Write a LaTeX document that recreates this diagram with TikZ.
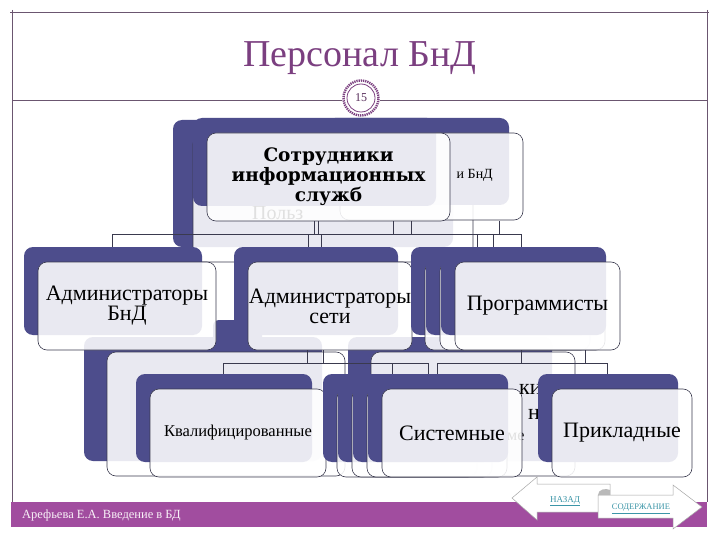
\documentclass[tikz,border=0pt]{standalone}
\usepackage{fontspec}
\setmainfont{Liberation Serif}
\newfontfamily\heavyfont{DejaVu Serif}
\usetikzlibrary{shadows}
\definecolor{navy}{HTML}{4D4D8C}
\definecolor{edge}{HTML}{3A3A4E}
\definecolor{frameline}{HTML}{6B5670}
\definecolor{plum}{HTML}{7B3F80}
\definecolor{barfill}{HTML}{A14D9F}
\definecolor{linkcol}{HTML}{3C96A8}
\tikzset{
  card/.style={rounded corners=9pt, draw=edge, line width=0.6pt, fill=white,
    fill opacity=0.88, text opacity=1, inner sep=0pt, align=center,
    font=\fontsize{22}{20}\selectfont,
    drop shadow={shadow xshift=#1, shadow yshift=15pt, fill=navy, opacity=1, draw=none}},
  card/.default=-14pt,
  boxw/.style={minimum width=#1, minimum height=88pt},
  bus/.style={draw=edge, line width=0.6pt},
  frame/.style={draw=frameline, line width=0.8pt},
  ghost/.style={inner sep=0pt, font=\fontsize{22}{20}\selectfont},
  navarrow/.style={fill=white, draw=gray!70, line width=0.5pt},
  navtext/.style={inner sep=0pt, text=linkcol, font=\fontsize{9}{9}\selectfont},
}
\begin{document}
\begin{tikzpicture}[x=1pt,y=-1pt]
\useasboundingbox[fill=white] (0,0) rectangle (720,540);

\draw[frame] (10,12) -- (709,12);
\draw[frame] (12,10) -- (12,502);
\draw[frame] (707,10) -- (707,502);
\draw[frame] (12,100) -- (707,100);
\node[font=\fontsize{38}{38}\selectfont, text=plum, anchor=base] (title) at (360,67) {Персонал БнД};
\node[circle, fill=white, minimum size=38pt, inner sep=0pt, font=\fontsize{12}{12}\selectfont, text=plum!70!black] (pgnum) at (361,98) {15};
\draw[plum, line width=0.8pt] (pgnum.center) circle (14pt);
\draw[plum, line width=2.4pt, dash pattern=on 1.3pt off 0.9pt] (pgnum.center) circle (17.5pt);

\node[card=-20pt, minimum width=280pt, minimum height=127pt] (users) at (333,198.5) {};
\node[card, minimum width=183pt, minimum height=87pt] (usersb) at (431.5,176.5) {};
\node[ghost, font=\fontsize{14}{14}\selectfont, anchor=east] (userstxt) at (493,175) {и БнД};
\node[ghost, font=\fontsize{20}{20}\selectfont, anchor=base west] (userghost) at (252,219) {Польз};
\node[card, boxw=243pt, font=\heavyfont\bfseries\fontsize{18.5}{20}\selectfont] (staff) at (328.5,177) {Сотрудники\\информационных\\служб};

\coordinate (b1w) at (112,234);
\coordinate (b1e) at (521,234);
\draw[bus] (b1w) -- (b1e);
\foreach \x in {314,318,393,411,499}
\draw[bus] (\x,0 |- staff.south) -- (\x,0 |- b1w);
\foreach \x in {112,308,321,477,493,521}
\draw[bus] (\x,0 |- b1w) -- (\x,247);

\node[card=-23pt, minimum width=238pt, minimum height=124pt] (leftgrp) at (226,414) {};
\node[card=-23pt, minimum width=204pt, minimum height=124pt] (rightgrp) at (473,414) {};
\fill[navy, rounded corners=6pt] (213,320) rectangle (262,345);

\node[card, boxw=178pt] (admdb) at (127,306) {Администраторы\\БнД};
\node[card, boxw=164pt] (admnet) at (330,306) {Администраторы\\сети};
\foreach \cx/\nm in {507.5/progc, 522.5/progb}
\node[card, boxw=165pt] (\nm) at (\cx,306) {};
\node[card, boxw=165pt] (prog) at (537.5,306) {Программисты};

\coordinate (b2w) at (223,363);
\coordinate (b2m) at (428,363);
\coordinate (b2n) at (437,363);
\coordinate (b2e) at (607,363);
\draw[bus] (b2w) -- (b2m);
\draw[bus] (b2n) -- (b2e);
\foreach \x in {307,323}
\draw[bus] (\x,0 |- admnet.south) -- (\x,0 |- b2w);
\foreach \x in {521,585}
\draw[bus] (\x,0 |- prog.south) -- (\x,0 |- b2w);
\foreach \x in {223,392,428,437,607}
\draw[bus] (\x,0 |- b2w) -- (\x,376);

\node[card, boxw=176pt, font=\fontsize{16.5}{18}\selectfont] (qual) at (238,433) {Квалифицированные};
\foreach \cx/\nm in {407/sysd, 422/sysc, 437/sysb}
\node[card, boxw=140pt] (\nm) at (\cx,433) {};
\node[ghost, font=\fontsize{16}{16}\selectfont, anchor=base west] (sysghost) at (507,440) {ме};
\node[card, boxw=140pt] (sys) at (452,433) {Системные};
\node[ghost, anchor=base west] (devghost) at (519,394) {ки};
\node[ghost, anchor=base west] (devghostb) at (528,419) {н};
\node[card, boxw=140pt] (app) at (622,433) {Прикладные};

\fill[barfill] (11,502) rectangle (707,527);
\node[anchor=west, inner sep=0pt, text=white!92!barfill, font=\fontsize{12.5}{12.5}\selectfont] (author) at (22,515) {Арефьева Е.А. Введение в БД};

\filldraw[navarrow] (512,498) -- (537,477) -- (537,484) -- (610,484) -- (610,505) -- (598,512) -- (537,512) -- (537,520) -- cycle;
\filldraw[navarrow] (598,495) -- (673,495) -- (673,485) -- (702,507) -- (673,529) -- (673,518) -- (598,518) -- cycle;
\fill[gray!55] (598,495) .. controls (598,489) and (606,488) .. (610,490) -- (610,495) -- cycle;
\node[navtext] (back) at (565,501) {\underline{НАЗАД}};
\node[navtext, font=\fontsize{8.5}{8.5}\selectfont] (contents) at (641,509) {\underline{СОДЕРЖАНИЕ}};
\end{tikzpicture}
\end{document}
